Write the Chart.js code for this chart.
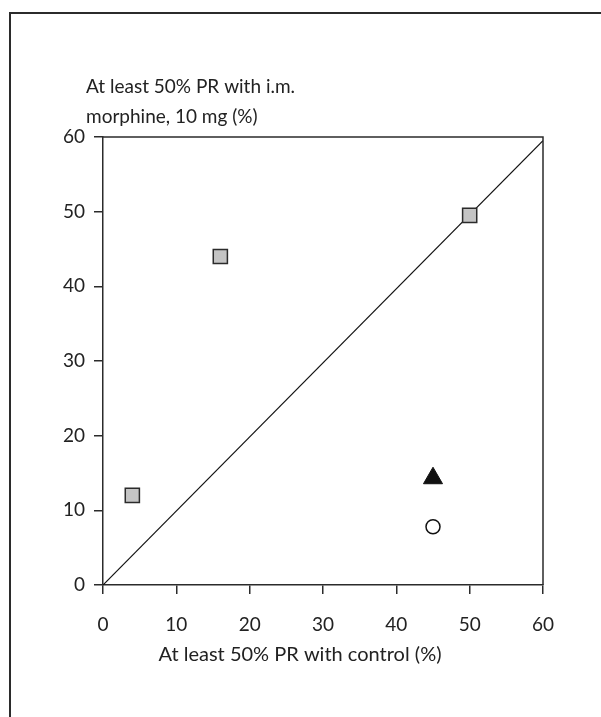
<!DOCTYPE html>
<html>
<head>
<meta charset="utf-8">
<script src="https://cdn.jsdelivr.net/npm/chart.js@4"></script>
<style>
  html, body { margin: 0; padding: 0; background: #fff; }
  #chart { display: block; }
</style>
</head>
<body>
<canvas id="chart" width="601" height="717"></canvas>
<script>
// 数据
const squareX = [4, 16, 50];
const squareY = [12, 44, 49.5];
const triangleX = [45];
const triangleY = [14.3];
const circleX = [45];
const circleY = [7.8];
const diagX = [0, 60];
const diagY = [0, 59.5];

const xTitle = 'At least 50% PR with control (%)';
const yTitle = ['At least 50% PR with i.m.', 'morphine, 10 mg (%)'];

const ink = '#222';
const fontStack = 'Lato, "Open Sans", sans-serif';
const toPoints = (xs, ys) => xs.map((x, i) => ({ x, y: ys[i] }));

Chart.defaults.font.family = fontStack;
Chart.defaults.font.size = 19;
Chart.defaults.color = ink;

// 外框 + 坐标区上/右边线 + 两个轴标题
const framePlugin = {
    id: 'frame',
    afterDraw(chart) {
        const { ctx, chartArea: a } = chart;
        ctx.save();
        ctx.strokeStyle = '#2b2b2b';
        ctx.lineWidth = 2;
        ctx.beginPath();
        ctx.moveTo(10, 717);
        ctx.lineTo(10, 13);
        ctx.lineTo(601, 13);
        ctx.stroke();

        ctx.lineWidth = 1.5;
        ctx.beginPath();
        ctx.moveTo(a.left, a.top);
        ctx.lineTo(a.right, a.top);
        ctx.lineTo(a.right, a.bottom);
        ctx.stroke();

        ctx.fillStyle = ink;
        ctx.font = '19px ' + fontStack;
        ctx.textAlign = 'left';
        ctx.textBaseline = 'middle';
        ctx.fillText(yTitle[0], a.left - 17, a.top - 50);
        ctx.fillText(yTitle[1], a.left - 17, a.top - 20);

        // 横轴标题略偏左，居中于整幅图
        ctx.font = '20px ' + fontStack;
        ctx.textAlign = 'center';
        ctx.fillText(xTitle, 300, a.bottom + 70);
        ctx.restore();
    }
};

new Chart(document.getElementById('chart'), {
    type: 'scatter',
    data: {
        datasets: [{
            data: toPoints(squareX, squareY),
            pointStyle: 'rect',
            pointRadius: 10,
            pointHoverRadius: 10,
            backgroundColor: '#c4c4c4',
            borderColor: '#2b2b2b',
            borderWidth: 1.5,
            order: 0
        }, {
            data: toPoints(triangleX, triangleY),
            pointStyle: 'triangle',
            pointRadius: 11,
            pointHoverRadius: 11,
            backgroundColor: '#111',
            borderColor: '#111',
            borderWidth: 1,
            order: 0
        }, {
            data: toPoints(circleX, circleY),
            pointStyle: 'circle',
            pointRadius: 7,
            pointHoverRadius: 7,
            backgroundColor: '#fff',
            borderColor: '#111',
            borderWidth: 1.5,
            order: 0
        }, {
            data: toPoints(diagX, diagY),
            showLine: true,
            pointRadius: 0,
            borderColor: '#111',
            borderWidth: 1.2,
            order: 1
        }]
    },
    options: {
        responsive: false,
        animation: false,
        layout: { padding: { top: 137, right: 58, left: 0, bottom: 0 } },
        plugins: {
            legend: { display: false },
            tooltip: { enabled: false }
        },
        scales: {
            x: {
                type: 'linear',
                min: 0,
                max: 60,
                ticks: { stepSize: 10, padding: 19, color: ink },
                grid: { drawOnChartArea: false, drawTicks: true, tickLength: 9, color: '#2b2b2b', lineWidth: 1.5 },
                border: { display: true, color: '#2b2b2b', width: 1.5 },
                afterFit(scale) { scale.height = 132; }
            },
            y: {
                type: 'linear',
                min: 0,
                max: 60,
                ticks: { stepSize: 10, padding: 9, color: ink },
                grid: { drawOnChartArea: false, drawTicks: true, tickLength: 9, color: '#2b2b2b', lineWidth: 1.5 },
                border: { display: true, color: '#2b2b2b', width: 1.5 },
                afterFit(scale) { scale.width = 103; }
            }
        }
    },
    plugins: [framePlugin]
});
</script>
</body>
</html>
